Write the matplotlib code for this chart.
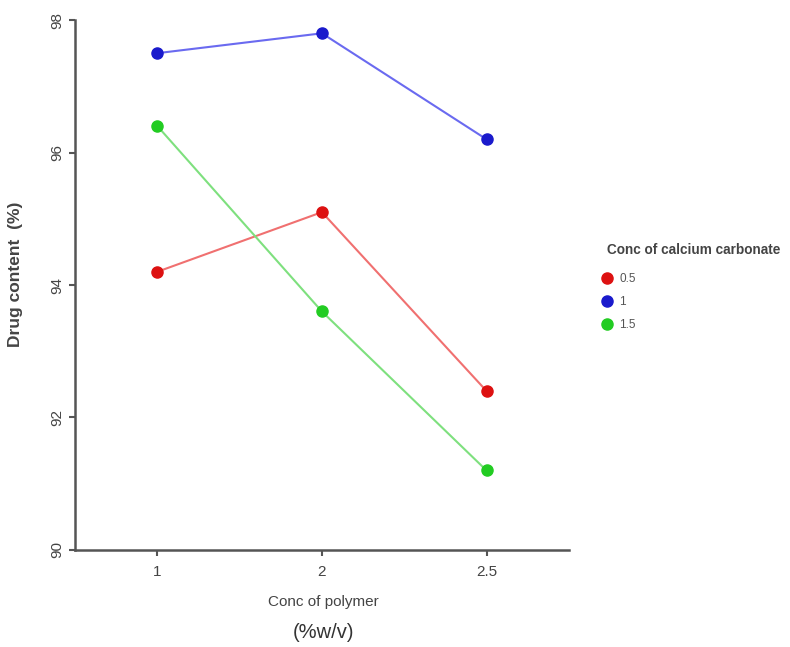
import matplotlib
matplotlib.use("Agg")
import matplotlib.pyplot as plt
from matplotlib.lines import Line2D

plt.rcParams["font.family"] = ["Liberation Sans", "DejaVu Sans"]

categories = ["1", "2", "2.5"]
series_names = ["0.5", "1", "1.5"]
values_05 = [94.2, 95.1, 92.4]
values_1 = [97.5, 97.8, 96.2]
values_15 = [96.4, 93.6, 91.2]
yticks = [90, 92, 94, 96, 98]

series = [values_05, values_1, values_15]
marker_colors = ["#dd1111", "#1a1acc", "#22cc22"]
line_colors = ["#f07070", "#6a6af0", "#7ee07e"]

fig = plt.figure(figsize=(7.9, 6.47), dpi=100)
ax = fig.add_axes([0.095, 0.150, 0.625, 0.819])

x = list(range(len(categories)))
for vals, mc, lc in zip(series, marker_colors, line_colors):
    ax.plot(x, vals, color=lc, lw=1.5, zorder=2)
    ax.plot(x, vals, "o", color=mc, ms=8, zorder=3)

ax.set_xlim(-0.5, 2.5)
ax.set_ylim(90, 98)
ax.set_xticks(x)
ax.set_xticklabels(categories)
ax.set_yticks(yticks)
ax.set_yticklabels([str(v) for v in yticks], rotation=90, va="center")

for s in ["top", "right"]:
    ax.spines[s].set_visible(False)
for s in ["left", "bottom"]:
    ax.spines[s].set_color("#555555")
    ax.spines[s].set_linewidth(1.8)
ax.tick_params(colors="#555555", labelcolor="#444444", labelsize=11, length=4, width=1.5)
ax.tick_params(axis="x", pad=7)

ax.set_ylabel("Drug content  (%)", fontsize=12.5, fontweight="bold", color="#444444")
ax.yaxis.set_label_coords(-0.105, 0.52)

fig.text(0.409, 0.069, "Conc of polymer", ha="center", va="center", fontsize=11, color="#444444")
fig.text(0.409, 0.023, "(%w/v)", ha="center", va="center", fontsize=14.5, color="#333333")

fig.text(0.768, 0.613, "Conc of calcium carbonate", ha="left", va="center",
         fontsize=9.8, fontweight="bold", color="#444444")
handles = [Line2D([], [], marker="o", ls="none", color=c, ms=8) for c in marker_colors]
leg = fig.legend(handles, series_names, loc="upper left", bbox_to_anchor=(0.760, 0.578),
                 frameon=False, fontsize=8.5, handletextpad=0.4, handlelength=1.2,
                 labelspacing=0.95, borderaxespad=0, borderpad=0)
for t in leg.get_texts():
    t.set_color("#555555")

fig.savefig("out.png", dpi=100)
